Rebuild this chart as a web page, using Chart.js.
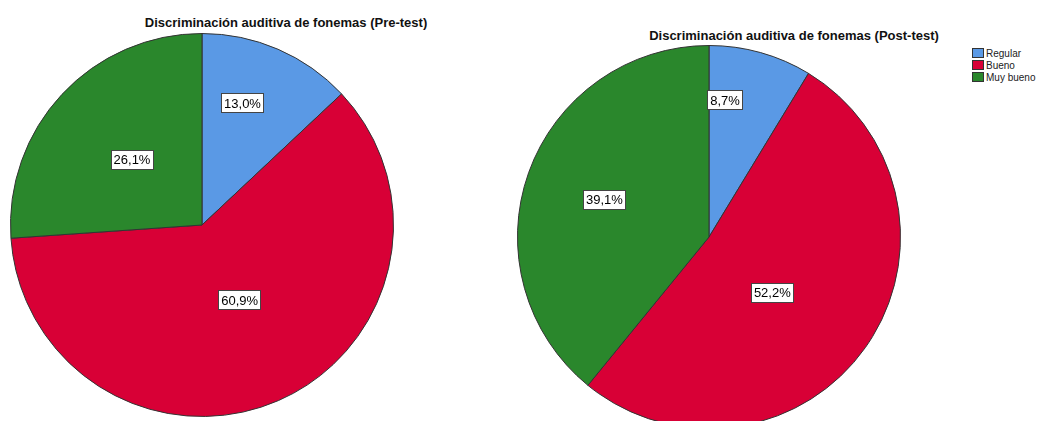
<!DOCTYPE html>
<html>
<head>
<meta charset="utf-8">
<script src="https://cdn.jsdelivr.net/npm/chart.js@4.4.0/dist/chart.umd.min.js"></script>
<style>
  html, body { margin: 0; padding: 0; width: 1039px; height: 421px; overflow: hidden; background: #fff; }
  body { position: relative; font-family: "Liberation Sans", Arial, sans-serif; }
  .title { position: absolute; font-weight: bold; font-size: 13px; color: #111; white-space: nowrap; transform: translateX(-50%); }
  .pie { position: absolute; width: 386px; height: 386px; }
  #legend { position: absolute; left: 972px; top: 48px; font-size: 10px; color: #222; }
  #legend div { height: 12px; line-height: 12px; white-space: nowrap; }
  #legend span { display: inline-block; width: 12px; height: 10px; border: 1px solid #333; box-sizing: border-box; vertical-align: -1px; margin-right: 2px; }
</style>
</head>
<body>
<div class="title" style="left:286px; top:15px;">Discriminación auditiva de fonemas (Pre-test)</div>
<div class="title" style="left:794px; top:28px;">Discriminación auditiva de fonemas (Post-test)</div>
<div class="pie" style="left:9px; top:32px;"><canvas id="pre"></canvas></div>
<div class="pie" style="left:516px; top:44px;"><canvas id="post"></canvas></div>
<div id="legend"></div>
<script>
const categories = ['Regular', 'Bueno', 'Muy bueno'];
const preTest = [13.0, 60.9, 26.1];
const postTest = [8.7, 52.2, 39.1];
const colors = ['#5a99e5', '#d80036', '#2a872c'];

// label boxes drawn on top of each slice
const boxLabels = {
  id: 'boxLabels',
  afterDatasetsDraw(chart, args, opts) {
    const ctx = chart.ctx;
    const meta = chart.getDatasetMeta(0);
    const values = chart.data.datasets[0].data;
    ctx.save();
    ctx.font = '13px "Liberation Sans", Arial, sans-serif';
    ctx.textAlign = 'center';
    ctx.textBaseline = 'middle';
    meta.data.forEach((arc, i) => {
      const p = arc.getProps(['x', 'y', 'startAngle', 'endAngle', 'outerRadius'], true);
      const a = (p.startAngle + p.endAngle) / 2 + (opts.shift[i] || 0) * Math.PI / 180;
      const r = p.outerRadius * opts.radius[i];
      const x = p.x + Math.cos(a) * r;
      const y = p.y + Math.sin(a) * r;
      const text = values[i].toFixed(1).replace('.', ',') + '%';
      const w = ctx.measureText(text).width + 6;
      const h = 20;
      ctx.fillStyle = '#fff';
      ctx.fillRect(Math.round(x - w / 2), Math.round(y - h / 2), Math.round(w), h);
      ctx.strokeStyle = '#444';
      ctx.lineWidth = 1;
      ctx.strokeRect(Math.round(x - w / 2) + 0.5, Math.round(y - h / 2) + 0.5, Math.round(w) - 1, h - 1);
      ctx.fillStyle = '#000';
      ctx.fillText(text, x, y + 1);
    });
    ctx.restore();
  }
};

function makePie(id, values, radius, shift) {
  new Chart(document.getElementById(id), {
    type: 'pie',
    data: {
      labels: categories,
      datasets: [{
        data: values,
        backgroundColor: colors,
        borderColor: '#333',
        borderWidth: 1
      }]
    },
    options: {
      responsive: true,
      maintainAspectRatio: false,
      animation: false,
      layout: { padding: 1 },
      plugins: {
        legend: { display: false },
        tooltip: { enabled: false },
        boxLabels: { radius, shift }
      }
    },
    plugins: [boxLabels]
  });
}

makePie('pre', preTest, [0.67, 0.44, 0.5], [-5, -3, 0]);
makePie('post', postTest, [0.72, 0.44, 0.58], [-9, 6, 0]);

const legend = document.getElementById('legend');
categories.forEach((c, i) => {
  const row = document.createElement('div');
  row.innerHTML = '<span style="background:' + colors[i] + '"></span>' + c;
  legend.appendChild(row);
});
</script>
</body>
</html>
